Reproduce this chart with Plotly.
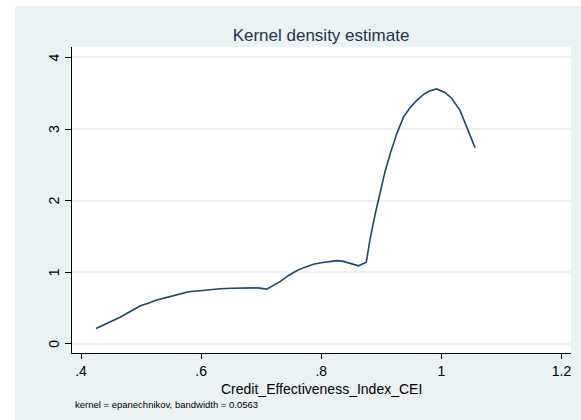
import plotly.graph_objects as go

# Kernel density estimate
cei = [0.425, 0.445, 0.465, 0.482, 0.499, 0.513, 0.526, 0.540, 0.554, 0.567,
       0.579, 0.598, 0.615, 0.632, 0.650, 0.667, 0.682, 0.695, 0.709, 0.720,
       0.732, 0.745, 0.759, 0.773, 0.787, 0.800, 0.813, 0.826, 0.837, 0.850,
       0.862, 0.875, 0.881, 0.890, 0.898, 0.906, 0.915, 0.926, 0.937, 0.948,
       0.959, 0.970, 0.980, 0.992, 1.006, 1.017, 1.031, 1.042, 1.056]
density = [0.213, 0.29, 0.37, 0.45, 0.53, 0.57, 0.61, 0.64, 0.67, 0.70,
           0.725, 0.74, 0.755, 0.767, 0.775, 0.78, 0.785, 0.78, 0.763, 0.81,
           0.87, 0.95, 1.02, 1.07, 1.11, 1.13, 1.15, 1.16, 1.15, 1.12,
           1.088, 1.14, 1.45, 1.82, 2.10, 2.40, 2.66, 2.94, 3.17, 3.30,
           3.40, 3.48, 3.53, 3.56, 3.51, 3.43, 3.26, 3.03, 2.74]

x_ticks = [0.4, 0.6, 0.8, 1.0, 1.2]
x_ticklabels = [".4", ".6", ".8", "1", "1.2"]
y_ticks = [0, 1, 2, 3, 4]
y_ticklabels = ["0", "1", "2", "3", "4"]

title_text = "Kernel density estimate"
x_title = "Credit_Effectiveness_Index_CEI"
note_text = "kernel = epanechnikov, bandwidth = 0.0563"

W, H = 581, 420
ML, MR, MT, MB = 72, 10, 47, 67
PW = W - ML - MR
PH = H - MT - MB
BG = "#EAF2F3"
FONT = "Liberation Sans, Arial, sans-serif"

def px_to_paper_x(px):
    return (px - ML) / PW

def py_to_paper_y(py):
    return (H - MB - py) / PH

fig = go.Figure()
fig.add_trace(go.Scatter(x=cei, y=density, mode="lines",
                         line=dict(color="#1a476f", width=1.6),
                         hoverinfo="skip", showlegend=False))

annotations = [
    dict(text=x_title, xref="paper", yref="paper", x=px_to_paper_x(321),
         y=py_to_paper_y(389), xanchor="center", yanchor="middle", showarrow=False,
         font=dict(size=14, color="black", family=FONT)),
    dict(text=note_text, xref="paper", yref="paper", x=px_to_paper_x(73),
         y=py_to_paper_y(404), xanchor="left", yanchor="middle", showarrow=False,
         font=dict(size=9.5, color="black", family=FONT)),
]
for v, lab in zip(y_ticks, y_ticklabels):
    annotations.append(dict(text=lab, xref="paper", yref="y", x=px_to_paper_x(54), y=v,
                            xanchor="center", yanchor="middle", textangle=-90,
                            showarrow=False, font=dict(size=14, color="black", family=FONT)))

fig.update_layout(
    width=W, height=H,
    margin=dict(l=ML, r=MR, t=MT, b=MB, autoexpand=False),
    paper_bgcolor=BG, plot_bgcolor="white",
    font=dict(family=FONT, color="black"),
    showlegend=False,
    title=dict(text=title_text, x=px_to_paper_x(321), xref="paper", xanchor="center",
               y=1 - 35 / H, yref="container", yanchor="middle",
               font=dict(size=17, color="#243352", family=FONT)),
    xaxis=dict(range=[0.385, 1.2158], tickvals=x_ticks, ticktext=x_ticklabels,
               showgrid=False, zeroline=False, showline=True, linecolor="black",
               linewidth=1, ticks="outside", ticklen=5, tickcolor="black",
               tickfont=dict(size=14, color="black"), mirror=False, automargin=False),
    yaxis=dict(range=[-0.130, 4.146], tickvals=y_ticks, showticklabels=False,
               showgrid=True, gridcolor=BG, gridwidth=1.5, zeroline=False,
               showline=True, linecolor="black", linewidth=1, ticks="outside",
               ticklen=6, tickcolor="black", mirror=False, automargin=False),
    shapes=[
        dict(type="rect", xref="paper", yref="paper",
             x0=px_to_paper_x(0), x1=px_to_paper_x(15), y0=py_to_paper_y(H), y1=py_to_paper_y(0),
             fillcolor="white", line=dict(width=0), layer="below"),
        dict(type="rect", xref="paper", yref="paper",
             x0=px_to_paper_x(0), x1=px_to_paper_x(W), y0=py_to_paper_y(6), y1=py_to_paper_y(0),
             fillcolor="white", line=dict(width=0), layer="below"),
    ],
    annotations=annotations,
)

fig.write_html("out.html", config={"displayModeBar": False},
               post_script="document.body.style.margin='0';document.body.style.padding='0';")
